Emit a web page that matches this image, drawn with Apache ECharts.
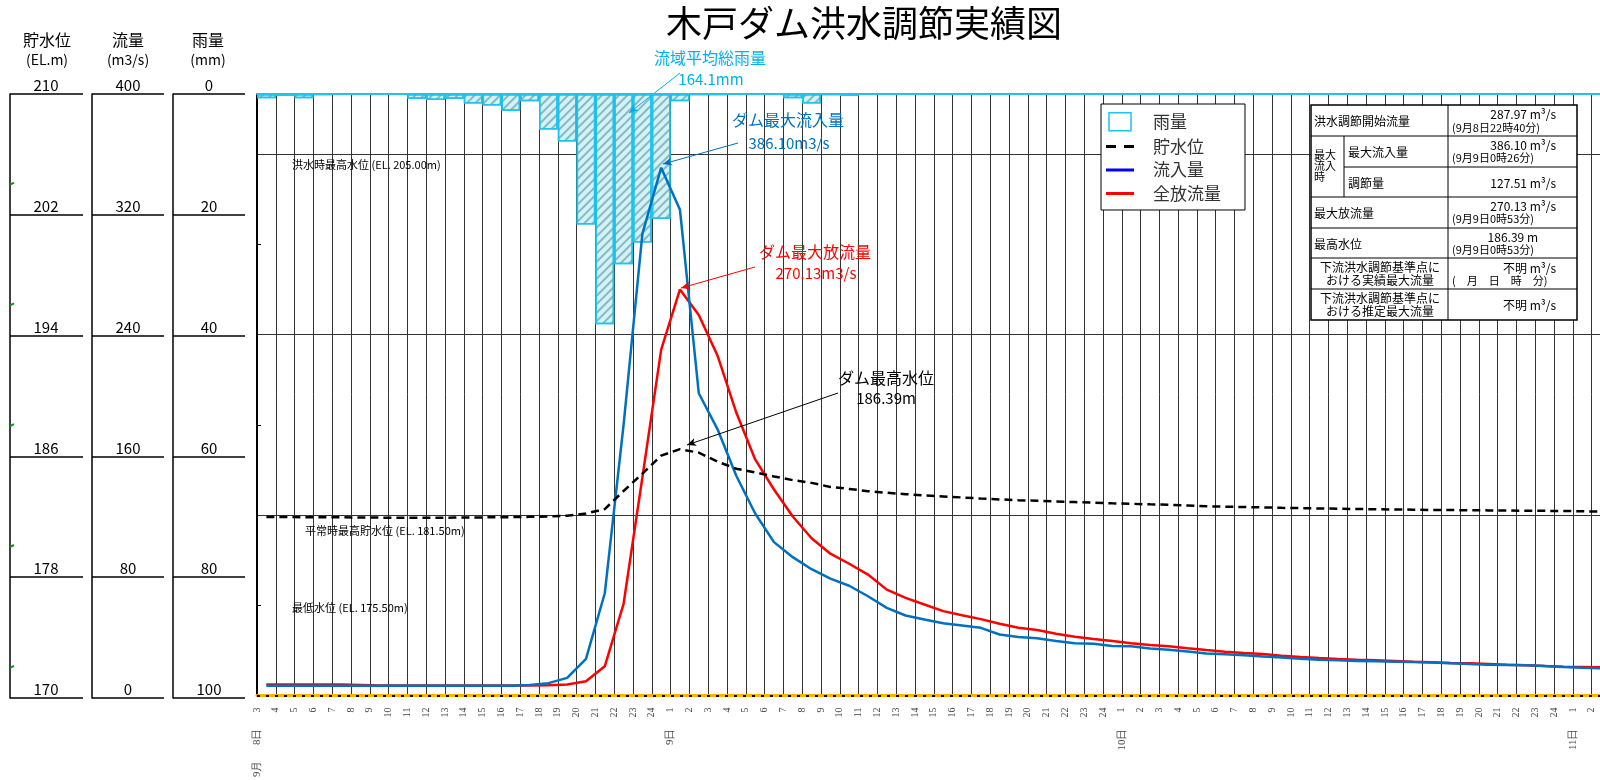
<!DOCTYPE html>
<html><head><meta charset="utf-8">
<script src="https://cdn.jsdelivr.net/npm/echarts@6/dist/echarts.min.js"></script>
<style>html,body{margin:0;padding:0;background:#fff}#c{width:1600px;height:780px}</style>
</head><body><div id="c"></div>
<script>
// ---- tick labels (hour boundaries, 8日3時 .. 11日2時) ----
const hourTicks = ['3','4','5','6','7','8','9','10','11','12','13','14','15','16','17','18','19','20','21','22','23','24',
  '1','2','3','4','5','6','7','8','9','10','11','12','13','14','15','16','17','18','19','20','21','22','23','24',
  '1','2','3','4','5','6','7','8','9','10','11','12','13','14','15','16','17','18','19','20','21','22','23','24',
  '1','2'];
const dayTickIndex = [0, 22, 46, 70];
const dayNames = ['8日', '9日', '10日', '11日'];
const monthName = '9月';
const greenTickLevels = [204, 196, 188, 180, 172];

// ---- hourly series (one value per hour interval) ----
const rainfall = [0.7,0.3,0.7,0.2,0,0,0,0,0.8,1.0,0.8,1.6,1.9,2.8,1.2,5.9,7.9,21.7,38.3,28.3,24.7,20.8,1.2,0.2,0.2,0,0,0.1,0.7,1.6,0.2,0.3,
  0,0,0,0,0,0,0,0,0,0,0,0,0,0,0,0,0,0,0,0,0,0,0,0,0,0,0,0,0,0,0,0,0,0,0,0,0,0,0,0];
const waterLevel = [181.87,181.87,181.86,181.85,181.85,181.84,181.83,181.82,181.82,181.82,181.83,181.84,181.85,181.86,181.88,181.90,
  181.96,182.10,182.40,183.60,184.75,185.95,186.38,186.15,185.55,185.08,184.83,184.57,184.32,184.14,183.87,183.74,183.59,183.48,183.39,183.30,
  183.24,183.17,183.10,183.04,182.99,182.95,182.90,182.86,182.82,182.78,182.75,182.71,182.68,182.64,
  182.58,182.56,182.53,182.51,182.48,182.46,182.44,182.42,182.40,182.39,182.37,182.36,182.34,182.33,182.32,182.31,182.30,182.29,182.28,182.27,182.25,182.23];
const inflow = [6.5,6.5,6.5,6.5,6.5,6.5,6.5,6.5,6.5,6.5,6.5,6.5,6.5,6.5,
  7.0,8.2,11.7,24.3,68,180,307,351,323,201,177,146,121,102,92,84,77.7,73,66,58.3,53.2,50.6,48.1,46.6,45,40.6,38.9,38,36.2,34.7,34.4,32.9,32.7,31.3,30.4,29.3,
  28,27.4,26.7,26,25.2,24.5,23.8,23.4,23,22.7,22.5,22.3,21.9,21.4,21,20.5,20.3,20.1,19.6,19,18.5,18.1];
const outflow = [7.3,7.3,7.3,7.3,7.3,7.0,6.6,6.6,6.6,6.6,6.6,6.6,6.6,6.6,6.6,6.8,7.3,9.5,19.4,61,145,230,270,253,226,188,157,137,119,104.6,94.3,87.6,80.4,70.4,64.9,60.5,
  56.1,53.4,50.8,47.7,45,43.5,41.1,39.1,37.5,36.2,34.7,33.6,32.7,31.4,30.2,29.1,28.3,27.6,26.5,25.6,24.9,24.3,23.8,23.4,23,22.5,22.1,21.6,21.4,21,20.5,20.1,19.6,19.2,19,18.8];

// ---- table text ----
const tableLabels = ['洪水調節開始流量','最大\n流入\n時','最大流入量','調節量','最大放流量','最高水位','下流洪水調節基準点に\nおける実績最大流量','下流洪水調節基準点に\nおける推定最大流量'];
const tableValues = ['287.97 m³/s','386.10 m³/s','127.51 m³/s','270.13 m³/s','186.39 m','不明 m³/s','不明 m³/s'];
const tableDates = ['(9月8日22時40分)','(9月9日0時26分)','(9月9日0時53分)','(9月9日0時53分)','(　月　日　時　分)'];

const FONT = '"Noto Sans CJK JP", "Noto Sans", sans-serif';
const SERIF = '"Liberation Serif", "DejaVu Serif", serif';
const XMAX = 71.44;
const atCenter = arr => arr.map((v, i) => [i + 0.5, v]);

const chart = echarts.init(document.getElementById('c'));

function txt(text, x, y, size, color, align, extra) {
  return Object.assign({type:'text', z:100, style:{text, x, y, fill:color||'#000', fontSize:size, fontFamily:FONT,
    align:align||'center', verticalAlign:'middle'}}, extra||{});
}
function hline(x1, x2, y, w) { return {type:'line', z:101, shape:{x1, y1:y, x2, y2:y}, style:{stroke:'#000', lineWidth:w||1}}; }
function vline(x, y1, y2, w) { return {type:'line', z:101, shape:{x1:x, y1, x2:x, y2}, style:{stroke:'#000', lineWidth:w||1}}; }

const TL = 1311, TR = 1577, TC = 1448, TS = 1344;
const rows = [105, 136, 167, 197, 228, 258, 289, 320];
const VR = 1556, DL = 1452;
const table = [
  {type:'rect', z:99, shape:{x:TL, y:rows[0], width:TR-TL, height:rows[7]-rows[0]}, style:{fill:'#fff', stroke:'#000', lineWidth:1.5}},
  hline(TL,TR,rows[1]), hline(TS,TR,rows[2]), hline(TL,TR,rows[3]), hline(TL,TR,rows[4]), hline(TL,TR,rows[5]), hline(TL,TR,rows[6]),
  vline(TC, rows[0], rows[7]), vline(TS, rows[1], rows[3]),
  txt(tableLabels[0], TL+3, 121, 12, '#000', 'left'),
  {type:'text', z:100, style:{text:tableLabels[1], x:TL+3, y:166, fill:'#000', fontSize:11, lineHeight:11, fontFamily:FONT, align:'left', verticalAlign:'middle'}},
  txt(tableLabels[2], TS+4, 152, 12, '#000', 'left'),
  txt(tableLabels[3], TS+4, 183, 12, '#000', 'left'),
  txt(tableLabels[4], TL+3, 213, 12, '#000', 'left'),
  txt(tableLabels[5], TL+3, 244, 12, '#000', 'left'),
  {type:'text', z:100, style:{text:tableLabels[6], x:1380, y:274, fill:'#000', fontSize:12, lineHeight:13, fontFamily:FONT, align:'center', verticalAlign:'middle'}},
  {type:'text', z:100, style:{text:tableLabels[7], x:1380, y:305, fill:'#000', fontSize:12, lineHeight:13, fontFamily:FONT, align:'center', verticalAlign:'middle'}},
  txt(tableValues[0], VR, 114, 12, '#000', 'right'),
  txt(tableDates[0], DL, 128, 11, '#000', 'left'),
  txt(tableValues[1], VR, 145, 12, '#000', 'right'),
  txt(tableDates[1], DL, 158, 11, '#000', 'left'),
  txt(tableValues[2], VR, 183, 12, '#000', 'right'),
  txt(tableValues[3], VR, 206, 12, '#000', 'right'),
  txt(tableDates[2], DL, 219, 11, '#000', 'left'),
  txt(tableValues[4], 1538, 237, 12, '#000', 'right'),
  txt(tableDates[3], DL, 250, 11, '#000', 'left'),
  txt(tableValues[5], VR, 268, 12, '#000', 'right'),
  txt(tableDates[4], DL, 281, 11, '#000', 'left'),
  txt(tableValues[6], VR, 305, 12, '#000', 'right')
];

const headers = [
  txt('木戸ダム洪水調節実績図', 864, 23, 36, '#000'),
  txt('貯水位', 47, 40, 16), txt('(EL.m)', 47, 60, 14),
  txt('流量', 128, 40, 16), txt('(m3/s)', 128, 60, 14),
  txt('雨量', 208, 40, 16), txt('(mm)', 208, 60, 14),
  txt('流域平均総雨量', 710, 58, 16, '#00b0f0'), txt('164.1mm', 711, 79, 15, '#00b0f0'),
  txt('ダム最大流入量', 788, 120, 16, '#0070c0'), txt('386.10m3/s', 789, 143, 15, '#0070c0'),
  txt('ダム最大放流量', 815, 252, 16, '#ff0000'), txt('270.13m3/s', 816, 273, 15, '#ff0000'),
  txt('ダム最高水位', 886, 378, 16, '#000'), txt('186.39m', 886, 398, 15, '#000'),
  txt('洪水時最高水位 (EL. 205.00m)', 292, 165, 11, '#000', 'left'),
  txt('平常時最高貯水位 (EL. 181.50m)', 305, 531, 11, '#000', 'left'),
  txt('最低水位 (EL. 175.50m)', 292, 608, 11, '#000', 'left')
];

function boxAxis(gi, min, max, interval, inverse) {
  return {gridIndex:gi, type:'value', min, max, interval, inverse:!!inverse, position:'left',
    axisLine:{show:true, onZero:false, lineStyle:{color:'#000', width:1.5}},
    axisTick:{show:false},
    splitLine:{show:true, lineStyle:{color:'#000', width:1.5}},
    axisLabel:{inside:true, margin:36, align:'center', verticalAlign:'bottom', fontSize:15, color:'#000', fontFamily:FONT, padding:[0,0,1,0]}};
}

const baseX = {gridIndex:0, type:'value', min:0, max:XMAX, interval:1, position:'bottom'};

const option = {
  animation:false,
  backgroundColor:'#fff',
  grid:[
    {left:257, right:0, top:94, bottom:82},
    {left:10, width:73, top:94, bottom:82},
    {left:92, width:72, top:94, bottom:82},
    {left:173, width:72, top:94, bottom:82}
  ],
  xAxis:[
    Object.assign({}, baseX, {
      axisLine:{show:true, onZero:false, lineStyle:{color:'#f2b800', width:3}},
      axisTick:{show:false},
      splitLine:{show:true, lineStyle:{color:'#333', width:1}},
      axisLabel:{rotate:90, margin:12, fontSize:10, fontFamily:SERIF, color:'#444',
        formatter:v => Number.isInteger(v) && hourTicks[v] !== undefined ? hourTicks[v] : ''}
    }),
    Object.assign({}, baseX, {
      axisLine:{show:false}, axisTick:{show:false}, splitLine:{show:false},
      axisLabel:{rotate:90, margin:33, fontSize:11, fontFamily:SERIF, color:'#444',
        formatter:v => { const k = dayTickIndex.indexOf(v); return k >= 0 ? dayNames[k] : ''; }}
    }),
    Object.assign({}, baseX, {
      axisLine:{show:false}, axisTick:{show:false}, splitLine:{show:false},
      axisLabel:{rotate:90, margin:65, fontSize:11, fontFamily:SERIF, color:'#444',
        formatter:v => v === 0 ? monthName : ''}
    }),
    {gridIndex:0, type:'value', min:0, max:XMAX, position:'top', z:5,
      axisLine:{show:true, onZero:false, lineStyle:{color:'#1cc4ee', width:2}},
      axisTick:{show:false}, axisLabel:{show:false}, splitLine:{show:false}},
    {gridIndex:1, type:'value', show:false},
    {gridIndex:2, type:'value', show:false},
    {gridIndex:3, type:'value', show:false}
  ],
  yAxis:[
    {gridIndex:0, type:'value', min:170, max:210, interval:12, position:'left',
      axisLine:{show:true, onZero:false, lineStyle:{color:'#000', width:2}},
      axisTick:{show:false, inside:true},
      minorTick:{show:true, splitNumber:2, length:4, lineStyle:{color:'#000', width:1}},
      axisLabel:{show:false},
      splitLine:{show:true, lineStyle:{color:'#333', width:1.2}}},
    {gridIndex:0, type:'value', min:0, max:400, show:false},
    {gridIndex:0, type:'value', min:0, max:100, inverse:true, show:false},
    boxAxis(1, 170, 210, 8),
    boxAxis(2, 0, 400, 80),
    boxAxis(3, 0, 100, 20, true)
  ],
  legend:{
    orient:'vertical', left:1101, top:104, padding:[8,24,8,5], itemGap:6.5,
    itemWidth:28, itemHeight:18, backgroundColor:'#fff', borderColor:'#000', borderWidth:1, z:50,
    textStyle:{fontSize:17, color:'#333', fontFamily:FONT, padding:[0,0,0,14]},
    data:[
      {name:'雨量', icon:'path://M0,0H22V18H0Z', itemStyle:{color:'#fff', borderColor:'#1cc4ee', borderWidth:1.5, decal:'none'}},
      {name:'貯水位', icon:'path://M0,0H10V3H0Z M18,0H28V3H18Z'},
      {name:'流入量', icon:'path://M0,0H28V3H0Z', itemStyle:{color:'#0000ff'}},
      {name:'全放流量', icon:'path://M0,0H28V3H0Z', itemStyle:{color:'#ff0000'}}
    ]
  },
  graphic: headers.concat(table),
  series:[
    {name:'雨量', type:'bar', xAxisIndex:0, yAxisIndex:2, barWidth:'100%', data:atCenter(rainfall),
      itemStyle:{color:'#d4f1f6', borderColor:'#1cc4ee', borderWidth:1.5,
        decal:{symbol:'rect', symbolSize:1, dashArrayX:[1,0], dashArrayY:[2,4], rotation:-Math.PI/4, color:'rgba(80,150,165,0.6)'}}},
    {name:'全放流量', type:'line', xAxisIndex:0, yAxisIndex:1, symbol:'none', data:atCenter(outflow),
      lineStyle:{color:'#ff0000', width:2.5}, itemStyle:{color:'#ff0000'},
      markLine:{silent:true, symbol:['none','none'], label:{show:false},
        data:[{yAxis:0, lineStyle:{color:'#000', type:[3,6], width:2}}]}},
    {name:'流入量', type:'line', xAxisIndex:0, yAxisIndex:1, symbol:'none', data:atCenter(inflow),
      lineStyle:{color:'#0070c0', width:2.5}, itemStyle:{color:'#0070c0'}},
    {name:'貯水位', type:'line', xAxisIndex:0, yAxisIndex:0, symbol:'none', data:atCenter(waterLevel),
      lineStyle:{color:'#000', width:2.5, type:[8,5]}, itemStyle:{color:'#000'},
      markLine:{silent:true, symbol:['none','arrow'], symbolSize:[6,9], label:{show:false},
        data:[
          [{x:680, y:73, lineStyle:{color:'#00b0f0', width:1, type:'solid'}, itemStyle:{color:'#00b0f0'}}, {x:629, y:113}],
          [{x:738, y:143, lineStyle:{color:'#0070c0', width:1, type:'solid'}, itemStyle:{color:'#0070c0'}}, {x:663, y:164}],
          [{x:755, y:267, lineStyle:{color:'#ff0000', width:1, type:'solid'}, itemStyle:{color:'#ff0000'}}, {x:681, y:288}],
          [{x:838, y:393, lineStyle:{color:'#000', width:1, type:'solid'}, itemStyle:{color:'#000'}}, {x:687, y:445}]
        ]}}
  ]
};
chart.setOption(option);

// small green marks on the storage-level scale, positioned through that axis
const greenMarks = greenTickLevels.map(v => {
  const y = chart.convertToPixel({yAxisIndex:3}, v);
  return {type:'line', z:102, shape:{x1:10, y1:y, x2:14, y2:y - 2}, style:{stroke:'#1a8a1a', lineWidth:2}};
});
chart.setOption({graphic: headers.concat(table).concat(greenMarks)});
</script>
</body></html>
